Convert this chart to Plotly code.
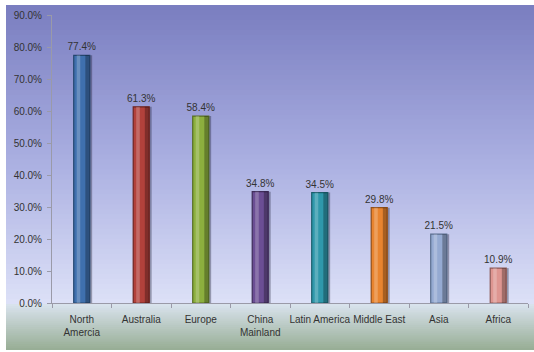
import plotly.graph_objects as go

categories = ["North<br>Amercia", "Australia", "Europe", "China<br>Mainland",
              "Latin America", "Middle East", "Asia", "Africa"]
values = [0.774, 0.613, 0.584, 0.348, 0.345, 0.298, 0.215, 0.109]
bar_colors = ["#3F70AE", "#B2413B", "#8CAF3E", "#6B4E94", "#2F98AB", "#E8842F", "#95AAD2", "#DE9691"]
edge_colors = ["#24466F", "#6E2521", "#566E22", "#3F2C5A", "#1A5E6B", "#91501A", "#5A6E8F", "#8E5A57"]
y_ticks = [0, 0.1, 0.2, 0.3, 0.4, 0.5, 0.6, 0.7, 0.8, 0.9]

W, H = 534, 352
x0_px, x1_px = 52, 528
y0_px, y1_px = 303, 15

def lerp(c1, c2, t):
    t = max(0.0, min(1.0, t))
    return "rgb(%d,%d,%d)" % tuple(round(a + (b - a) * t) for a, b in zip(c1, c2))

shapes = []
# upper gradient (wall)
top_c, mid_c, bot_c = (122, 126, 192), (168, 173, 224), (220, 224, 247)
n = 60
ys, ye = 5, 304
for i in range(n):
    a = ys + (ye - ys) * i / n
    b = min(ye, ys + (ye - ys) * (i + 1) / n + 3)
    t = i / (n - 1)
    col = lerp(top_c, mid_c, t * 2) if t < 0.5 else lerp(mid_c, bot_c, (t - 0.5) * 2)
    shapes.append(dict(type="rect", xref="paper", yref="paper", x0=6 / W, x1=1.0,
                       y0=1 - b / H, y1=1 - a / H, fillcolor=col,
                       line=dict(width=0), layer="below"))
# floor gradient
f_top, f_bot = (216, 226, 236), (152, 174, 150)
n2 = 24
fs, fe = 304, 350
for i in range(n2):
    a = fs + (fe - fs) * i / n2
    b = min(fe, fs + (fe - fs) * (i + 1) / n2 + 2)
    t = i / (n2 - 1)
    shapes.append(dict(type="rect", xref="paper", yref="paper", x0=6 / W, x1=1.0,
                       y0=1 - b / H, y1=1 - a / H, fillcolor=lerp(f_top, f_bot, t),
                       line=dict(width=0), layer="below"))

bw = 0.27
fig = go.Figure()
# shadow
fig.add_trace(go.Bar(x=categories, y=values, width=bw, offset=-bw / 2 + 0.04,
                     marker=dict(color="rgba(20,20,40,0.35)", line=dict(width=0)),
                     hoverinfo="skip", showlegend=False))
# main bar
fig.add_trace(go.Bar(x=categories, y=values, width=bw, offset=-bw / 2,
                     marker=dict(color=bar_colors, line=dict(color=edge_colors, width=1.2)),
                     text=["%.1f%%" % (v * 100) for v in values], textposition="outside",
                     constraintext="none",
                     textfont=dict(size=10, color="#333333", family="Liberation Sans"),
                     cliponaxis=False, showlegend=False))
# dark right edge
fig.add_trace(go.Bar(x=categories, y=values, width=0.07, offset=bw / 2 - 0.075,
                     marker=dict(color="rgba(0,0,0,0.28)", line=dict(width=0)),
                     hoverinfo="skip", showlegend=False))
# highlight
fig.add_trace(go.Bar(x=categories, y=values, width=0.06, offset=-bw / 2 + 0.05,
                     marker=dict(color="rgba(255,255,255,0.22)", line=dict(width=0)),
                     hoverinfo="skip", showlegend=False))

fig.update_layout(
    width=W, height=H, margin=dict(l=0, r=0, t=0, b=0),
    paper_bgcolor="white", plot_bgcolor="rgba(0,0,0,0)",
    barmode="overlay", shapes=shapes,
    font=dict(family="Liberation Sans", size=10, color="#333333"),
    xaxis=dict(domain=[x0_px / W, x1_px / W], range=[-0.5, 7.5], automargin=False,
               showline=True, linecolor="#9A9AA8", linewidth=1, tickangle=0,
               ticks="outside", tickson="boundaries", ticklen=4, tickcolor="#9A9AA8",
               ticklabelstandoff=7,
               showgrid=False, tickfont=dict(size=10, color="#333333")),
    yaxis=dict(domain=[1 - y0_px / H, 1 - y1_px / H], range=[0, 0.9], automargin=False,
               tickvals=y_ticks, tickformat=".1%", showline=True, linecolor="#9A9AA8",
               linewidth=1, ticks="outside", ticklen=4, tickcolor="#9A9AA8",
               ticklabelstandoff=3,
               showgrid=False, zeroline=False, tickfont=dict(size=10, color="#333333")),
)

fig.write_html("out.html", config={"displayModeBar": False},
               post_script="document.body.style.margin='0';document.body.style.overflow='hidden';")
